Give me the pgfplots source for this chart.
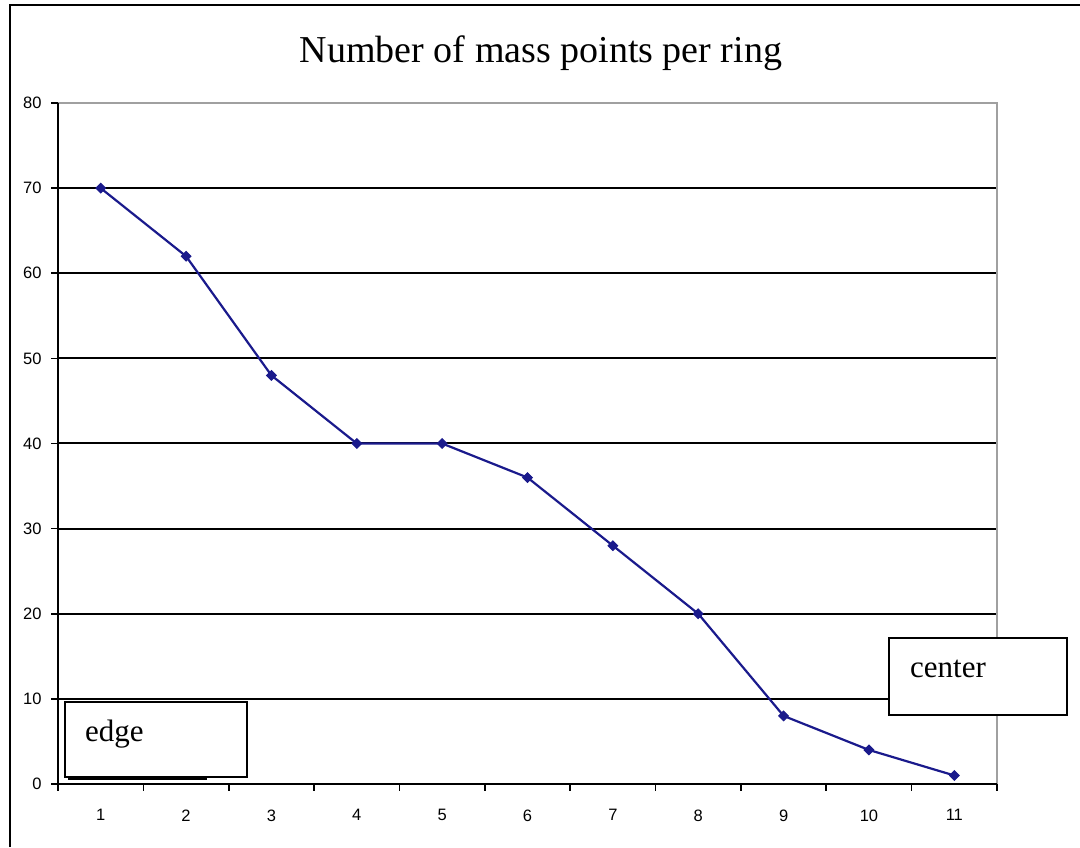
\documentclass[border=0pt]{standalone}
\usepackage{fontspec}
\setmainfont{Liberation Sans}
\newfontfamily\serif{Liberation Serif}
\usepackage{pgfplots}
\pgfplotsset{compat=1.18}

\definecolor{navyline}{RGB}{26,26,140}
\definecolor{frame}{RGB}{160,160,160}

\begin{document}
\begin{tikzpicture}[x=1pt,y=1pt]
\useasboundingbox (0,0) rectangle (1080,847);
% outer frame (only top and left edge visible)
\draw[line width=2.5pt] (10,0) -- (10,842) -- (1080,842);
% title
\node[anchor=base,font=\serif\fontsize{38}{44}\selectfont] at (541,784) {Number of mass points per ring};

\begin{axis}[
    at={(58pt,63pt)}, anchor=origin,
    scale only axis,
    width=939pt, height=681pt,
    xmin=0.5, xmax=11.5,
    ymin=0, ymax=80,
    xtick={1,...,11},
    minor xtick={0.5,1.5,...,11.5},
    major x tick style={draw=none},
    ytick={0,10,...,70},
    extra y ticks={80},
    extra y tick style={grid=none},
    xtick pos=lower, ytick pos=left,
    tick align=outside,
    major tick length=7pt,
    minor tick length=7pt,
    tick style={black,line width=1.6pt},
    ymajorgrids=true,
    grid style={black,line width=2pt},
    axis line style={draw=none},
    /pgf/number format/assume math mode=true,
    tick label style={font=\fontsize{16.5}{19}\selectfont,black},
    xticklabel style={yshift=-15pt},
    yticklabel style={xshift=-6pt},
    clip=false,
]
\draw[frame,line width=2pt] (axis cs:0.5,80) -- (axis cs:11.5,80) -- (axis cs:11.5,0);
\draw[black,line width=2pt] (axis cs:0.5,80) -- (axis cs:0.5,0) -- (axis cs:11.5,0);
\addplot[navyline,line width=2.2pt,mark=square*,mark size=3.4pt,mark options={fill=navyline,rotate=45,line width=1pt}]
coordinates {
    (1,70) (2,62) (3,48) (4,40) (5,40) (6,36) (7,28) (8,20) (9,8) (10,4) (11,1)
};
\end{axis}

% text boxes
\draw[fill=white,line width=2.2pt] (65,70) rectangle (247,145);
\draw[line width=2pt] (68,68) -- (207,68);
\node[anchor=base west,inner sep=0pt,font=\serif\fontsize{31}{36}\selectfont] at (85,105) {edge};
\draw[fill=white,line width=2.2pt] (889,132) rectangle (1067,209);
\node[anchor=base west,inner sep=0pt,font=\serif\fontsize{31}{36}\selectfont] at (910,169) {center};
\end{tikzpicture}
\end{document}
